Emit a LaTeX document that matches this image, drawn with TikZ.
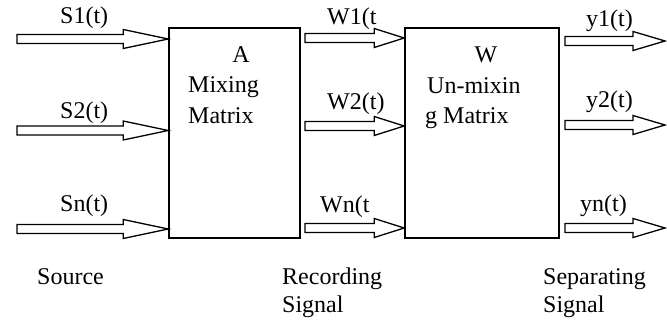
\documentclass[tikz,border=0pt]{standalone}
\usepackage{fontspec}
\setmainfont{Liberation Serif}
\usetikzlibrary{calc}
\tikzset{
  box/.style={draw, line width=1.6pt, inner sep=0pt},
  fatarrow/.style={draw, line width=1.3pt, fill=white, line join=miter},
  lbl/.style={anchor=base west, inner sep=0pt, font=\fontsize{24}{29}\selectfont},
  lblc/.style={anchor=base, inner sep=0pt, font=\fontsize{24}{29}\selectfont},
}
\newcommand\fatarr[3]{%
  \draw[fatarrow] ($(#1)+(0,4.5)$) -- ($(#2)+(-#3,4.5)$) -- ($(#2)+(-#3,9.5)$) -- (#2)
    -- ($(#2)+(-#3,-9.5)$) -- ($(#2)+(-#3,-4.5)$) -- ($(#1)+(0,-4.5)$) -- cycle;}
\begin{document}
\begin{tikzpicture}[x=1pt,y=-1pt]
\useasboundingbox (0,0) rectangle (667,320);
% boxes
\node[box, minimum width=131pt, minimum height=210pt] (A) at (234.5,133) {};
\node[box, minimum width=154pt, minimum height=210pt] (W) at (482,133) {};
% box texts
\node[lblc] (At) at (241,63) {A};
\node[lbl] (Am) at (188,93) {Mixing};
\node[lbl] (Ax) at (188,124) {Matrix};
\node[lblc] (Wt) at (486,63) {W};
\node[lbl] (Wu) at (427,94) {Un-mixin};
\node[lbl] (Wg) at (425,124) {g Matrix};
% coordinates for arrows
\coordinate (s1a) at (17,39);   \coordinate (s1b) at (A.west |- 0,39);
\coordinate (s2a) at (17,130.5);\coordinate (s2b) at (A.west |- 0,130.5);
\coordinate (sna) at (17,229);  \coordinate (snb) at (A.west |- 0,229);
\coordinate (w1a) at (305,38);  \coordinate (w1b) at (W.west |- 0,38);
\coordinate (w2a) at (305,126); \coordinate (w2b) at (W.west |- 0,126);
\coordinate (wna) at (305,228); \coordinate (wnb) at (W.west |- 0,228);
\coordinate (y1a) at (565,41);  \coordinate (y1b) at (665,41);
\coordinate (y2a) at (565,125); \coordinate (y2b) at (665,125);
\coordinate (yna) at (565,228); \coordinate (ynb) at (665,228);
\fatarr{s1a}{s1b}{45}
\fatarr{s2a}{s2b}{45}
\fatarr{sna}{snb}{45}
\fatarr{w1a}{w1b}{30}
\fatarr{w2a}{w2b}{30}
\fatarr{wna}{wnb}{30}
\fatarr{y1a}{y1b}{32}
\fatarr{y2a}{y2b}{32}
\fatarr{yna}{ynb}{32}
% labels
\node[lbl] (ls1) at (60,24) {S1(t)};
\node[lbl] (ls2) at (60,119) {S2(t)};
\node[lbl] (lsn) at (60,212) {Sn(t)};
\node[lbl] (lw1) at (327,25) {W1(t};
\node[lbl] (lw2) at (327,110) {W2(t)};
\node[lbl] (lwn) at (320,213) {Wn(t};
\node[lbl] (ly1) at (586,27) {y1(t)};
\node[lbl] (ly2) at (586,108) {y2(t)};
\node[lbl] (lyn) at (580,212) {yn(t)};
\node[lbl] (src) at (37,285) {Source};
\node[lbl] (rec) at (282,285) {Recording};
\node[lbl] (rec2) at (282,313) {Signal};
\node[lbl] (sep) at (543,285) {Separating};
\node[lbl] (sep2) at (543,313) {Signal};
\end{tikzpicture}
\end{document}
